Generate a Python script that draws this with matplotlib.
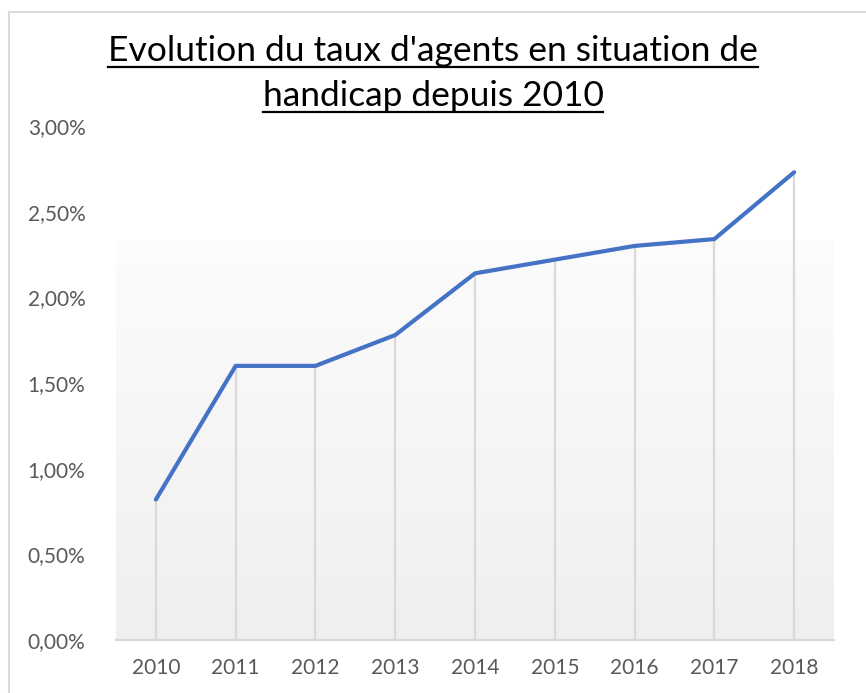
import numpy as np
import matplotlib
matplotlib.use("Agg")
import matplotlib.pyplot as plt
from matplotlib.patches import Rectangle
from matplotlib.ticker import FuncFormatter, MultipleLocator

plt.rcParams['font.family'] = ['Lato', 'DejaVu Sans']

# data
years = ['2010', '2011', '2012', '2013', '2014', '2015', '2016', '2017', '2018']
taux = [0.0082, 0.0160, 0.0160, 0.0178, 0.0214, 0.0222, 0.0230, 0.0234, 0.0273]
title_lines = ["Evolution du taux d'agents en situation de", "handicap depuis 2010"]

fig = plt.figure(figsize=(8.66, 6.93), dpi=100)
ax = fig.add_axes([116 / 866, 1 - 640 / 693, (834 - 116) / 866, (640 - 126) / 693])

x = np.arange(len(years))

# light gradient panel behind the plot
grad = np.linspace(0, 1, 256).reshape(-1, 1)
cmap = matplotlib.colors.LinearSegmentedColormap.from_list('g', ['#fcfcfc', '#efefef'])
ax.imshow(grad, cmap=cmap, aspect='auto', extent=(-0.5, len(years) - 0.5, 0, 0.0233),
          origin='upper', zorder=0)

ax.vlines(x, 0, taux, color='#d9d9d9', lw=1.6, zorder=1)
ax.plot(x, taux, color='#4472C4', lw=3.0, solid_capstyle='round',
        solid_joinstyle='round', zorder=3)

ax.set_xlim(-0.5, len(years) - 0.5)
ax.set_ylim(0, 0.03)
ax.yaxis.set_major_locator(MultipleLocator(0.005))
ax.yaxis.set_major_formatter(FuncFormatter(lambda v, p: f"{v * 100:.2f}%".replace('.', ',')))
ax.set_xticks(x)
ax.set_xticklabels(years)
ax.tick_params(axis='both', length=0, labelsize=15, colors='#595959')
ax.tick_params(axis='y', pad=22)
ax.tick_params(axis='x', pad=13)
for s in ['top', 'right', 'left']:
    ax.spines[s].set_visible(False)
ax.spines['bottom'].set_color('#d9d9d9')
ax.spines['bottom'].set_linewidth(1.6)
ax.set_facecolor('none')

# title with underline
fig.canvas.draw()
renderer = fig.canvas.get_renderer()
for i, line in enumerate(title_lines):
    yb = 1 - (61 + i * 45) / 693
    t = fig.text(0.5, yb, line, ha='center', va='baseline', fontsize=25.5, color='black')
    bb = t.get_window_extent(renderer).transformed(fig.transFigure.inverted())
    uy = 1 - (67 + i * 45) / 693
    fig.add_artist(plt.Line2D([bb.x0, bb.x1], [uy, uy], transform=fig.transFigure,
                              color='black', lw=1.6))

# chart frame (cut off at right and bottom)
fig.add_artist(Rectangle((9 / 866, -0.1), 2, 1.1 - 12 / 693, transform=fig.transFigure,
                         fill=False, ec='#d9d9d9', lw=1.5))

fig.savefig('out.png', dpi=100)
